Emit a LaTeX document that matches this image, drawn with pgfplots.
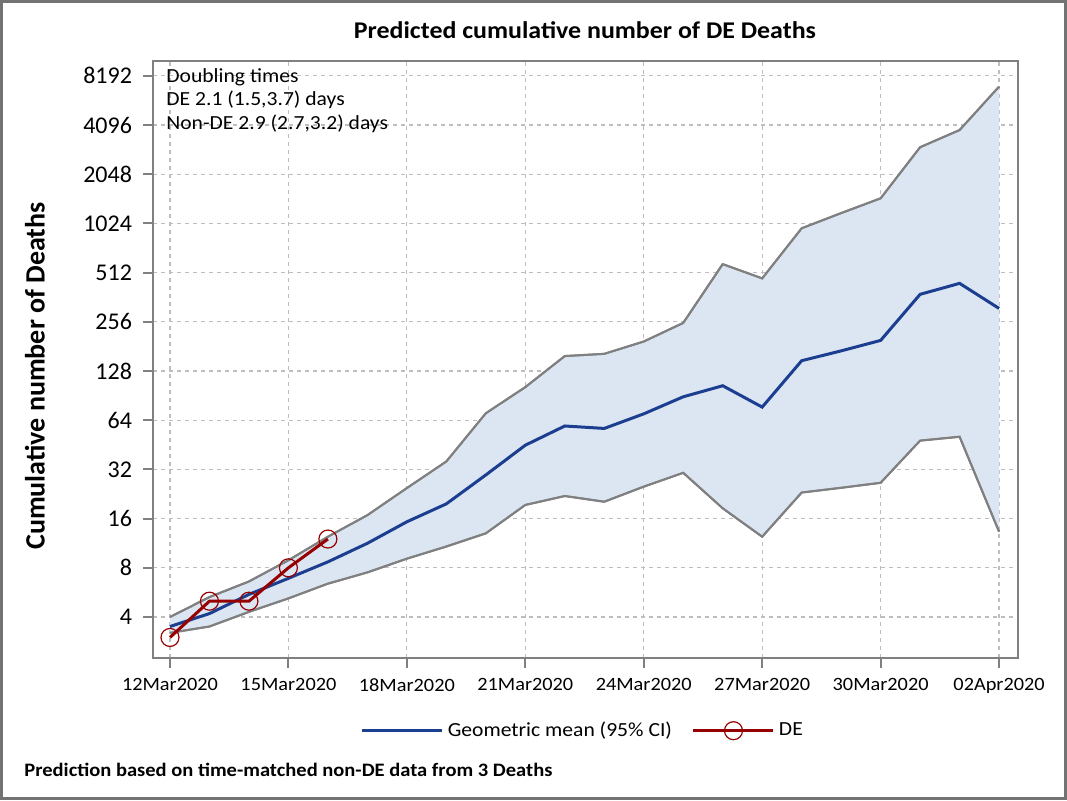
\documentclass[border=0pt]{standalone}
\usepackage{fontspec}
\setmainfont[FakeStretch=1.08]{Carlito}
\newfontfamily\plainfont{Carlito}
\usepackage{pgfplots}
\pgfplotsset{compat=1.18}
\usepackage{pgfplotstable}
\usepgfplotslibrary{fillbetween}

\definecolor{bandfill}{RGB}{220,230,242}
\definecolor{bandline}{RGB}{128,128,128}
\definecolor{meanblue}{RGB}{28,62,145}
\definecolor{dered}{RGB}{150,0,0}
\definecolor{gridgray}{RGB}{190,190,190}
\definecolor{framegray}{RGB}{128,128,128}

% day, upper CI, geometric mean, lower CI
\pgfplotstableread{
day up mean lo
0 4.0 3.5 3.2
1 5.3 4.2 3.5
2 6.6 5.5 4.3
3 8.9 6.9 5.2
4 12.4 8.7 6.4
5 16.8 11.3 7.5
6 24.6 15.3 9.1
7 35.8 19.7 10.8
8 70.6 29.6 13.0
9 102 45 19.4
10 158 59 22
11 163 57 20.3
12 194 70 25.1
13 252 89 30.5
14 577 104 18.5
15 472 77 12.4
16 956 148 23.1
17 1184 170 24.7
18 1458 197 26.5
19 2995 377 48
20 3815 440 50.7
21 7036 309 13.3
}\pred

\pgfplotstableread{
day de
0 3
1 5
2 5
3 8
4 12
}\observed

\begin{document}
\begin{tikzpicture}[x=1bp,y=1bp]
% outer frame of the picture
\draw[framegray!90!black, line width=1.5bp] (0.75,0.75) rectangle (532.75,399.25);

\begin{axis}[
  at={(76.5bp,71.15bp)}, anchor=south west,
  scale only axis, width=432.5bp, height=298.35bp,
  xmin=-0.43, xmax=21.48,
  ymode=log, log basis y=2,
  ymin=2.255, ymax=10090,
  xtick={0,3,...,21},
  xticklabels={12Mar2020,15Mar2020,18Mar2020,21Mar2020,24Mar2020,27Mar2020,30Mar2020,02Apr2020},
  ytick={4,8,16,32,64,128,256,512,1024,2048,4096,8192},
  yticklabels={4,8,16,32,64,128,256,512,1024,2048,4096,8192},
  /pgf/number format/assume math mode=true,
  tick align=outside, tick pos=left,
  major tick length=5bp,
  every tick/.style={framegray, line width=1bp},
  axis line style={framegray, line width=1bp},
  xticklabel style={font=\fontsize{9.4bp}{11bp}\selectfont, yshift=-2bp},
  yticklabel style={font=\plainfont\fontsize{12bp}{14bp}\selectfont, xshift=-2bp},
  grid=major,
  major grid style={gridgray, dash pattern=on 2bp off 2bp, line width=0.6bp},
  legend columns=2,
  legend style={at={(0.498,-0.1223)}, anchor=center, draw=none, fill=none,
    font=\fontsize{10bp}{12bp}\selectfont,
    /tikz/every even column/.append style={column sep=8bp}},
  legend image code/.code={\draw[mark repeat=2,mark phase=2] plot coordinates {(0bp,0bp) (20bp,0bp) (40bp,0bp)};},
]
\addplot[name path=upper, bandline, line width=1bp, forget plot] table[x=day,y=up] {\pred};
\addplot[name path=lower, bandline, line width=1bp, forget plot] table[x=day,y=lo] {\pred};
\addplot[bandfill, forget plot] fill between[of=upper and lower];
\addplot[bandline, line width=1bp, forget plot] table[x=day,y=up] {\pred};
\addplot[bandline, line width=1bp, forget plot] table[x=day,y=lo] {\pred};
\addplot[meanblue, line width=1.5bp] table[x=day,y=mean] {\pred};
\addplot[dered, line width=1.5bp, mark=o, mark size=4.5bp,
  mark options={line width=0.6bp, fill=none}] table[x=day,y=de] {\observed};
\legend{Geometric mean (95\% CI), DE}
\end{axis}

% title, y label, annotations
\node[font=\bfseries\fontsize{12bp}{14bp}\selectfont] at (292.5,385) {Predicted cumulative number of DE Deaths};
\node[font=\plainfont\bfseries\fontsize{14bp}{16bp}\selectfont, rotate=90] at (17.5,212) {Cumulative number of Deaths};
\node[anchor=north west, align=left, inner sep=0pt,
  font=\fontsize{10bp}{11.75bp}\selectfont] at (83,366) {Doubling times\\DE 2.1 (1.5,3.7) days\\Non-DE 2.9 (2.7,3.2) days};
\node[anchor=west, inner sep=0pt, font=\bfseries\fontsize{9.5bp}{11bp}\selectfont] at (12,15) {Prediction based on time-matched non-DE data from 3 Deaths};
\end{tikzpicture}
\end{document}
